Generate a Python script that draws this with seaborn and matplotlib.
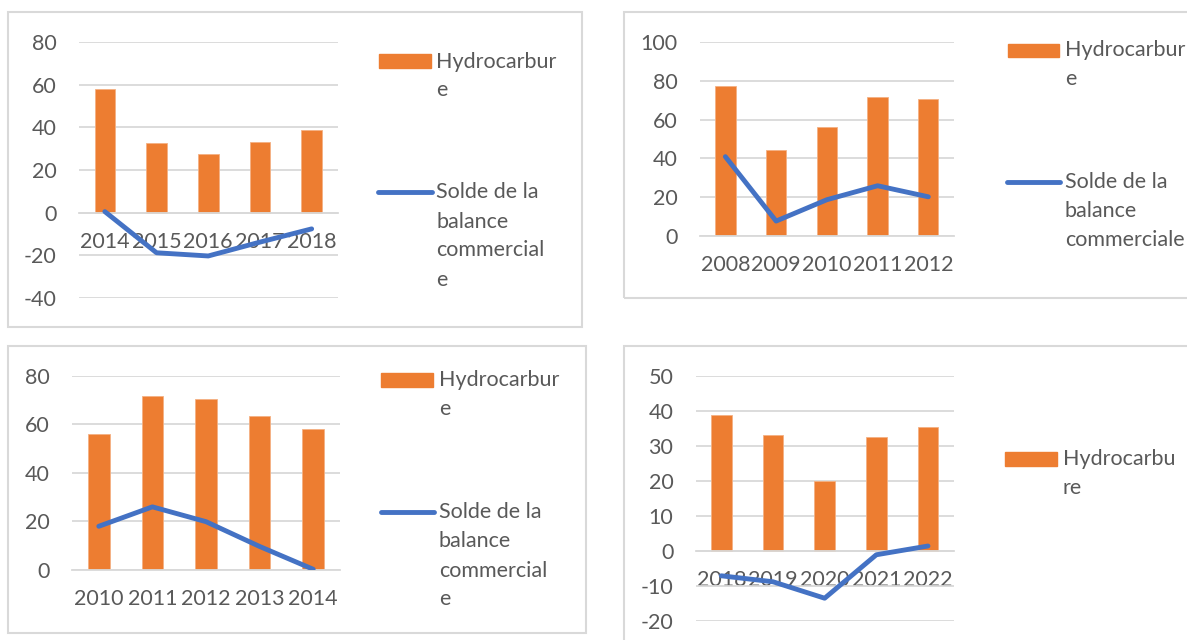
"""Hydrocarbures vs solde de la balance commerciale - four Excel-style panels."""

import numpy as np
import pandas as pd
import matplotlib.pyplot as plt
from matplotlib.patches import Rectangle
from matplotlib.lines import Line2D
from matplotlib.ticker import FixedLocator
import seaborn as sns

W, H = 1187, 640
ORANGE = "#ED7D31"
BLUE = "#4472C4"
GRID = "#D9D9D9"
TEXT = "#595959"
FS = 15.5

years_a = ["2014", "2015", "2016", "2017", "2018"]
hydro_a = [58.2, 32.8, 27.6, 32.9, 38.6]
solde_a = [0.5, -18.8, -20.3, -13.8, -7.6]

years_b = ["2008", "2009", "2010", "2011", "2012"]
hydro_b = [77.3, 44.2, 56.0, 71.6, 70.6]
solde_b = [40.9, 7.7, 18.7, 25.9, 20.2]

years_c = ["2010", "2011", "2012", "2013", "2014"]
hydro_c = [56.0, 71.5, 70.4, 63.6, 58.2]
solde_c = [18.0, 26.0, 19.9, 9.7, 0.3]

years_d = ["2018", "2019", "2020", "2021", "2022"]
hydro_d = [38.8, 33.2, 20.0, 32.5, 35.3]
solde_d = [-7.1, -8.8, -13.5, -1.1, 1.4]

sns.set_style("white")
plt.rcParams["font.family"] = ["Lato", "DejaVu Sans"]
plt.rcParams["axes.unicode_minus"] = False


def fx(px):
    return px / W


def fy(py):
    return 1 - py / H


def draw_panel(fig, years, hydro, solde, rect, ylim, step):
    left, top, right, bottom = rect
    ax = fig.add_axes([fx(left), fy(bottom), (right - left) / W, (bottom - top) / H])
    df = pd.DataFrame({"year": years, "hydro": hydro, "solde": solde, "pos": np.arange(len(years))})
    sns.barplot(data=df, x="year", y="hydro", color=ORANGE, width=0.4, saturation=1,
                edgecolor="#F4B183", linewidth=0.6, ax=ax)
    sns.lineplot(data=df, x="pos", y="solde", color=BLUE, lw=3.5, ax=ax,
                 solid_capstyle="round", solid_joinstyle="round", zorder=5)
    ax.set_xlim(-0.5, len(years) - 0.5)
    ax.set_ylim(*ylim)
    ax.set_yticks(np.arange(ylim[0], ylim[1] + 1, step))
    ax.set_xticks(np.arange(len(years)))
    ax.set_xticklabels(years)
    ax.xaxis.set_minor_locator(FixedLocator(np.arange(-0.5, len(years), 1.0)))
    ax.set_xlabel("")
    ax.set_ylabel("")
    ax.set_axisbelow(True)
    ax.grid(axis="y", color=GRID, lw=1.3)
    ax.grid(axis="x", visible=False)
    for side in ["top", "right", "left"]:
        ax.spines[side].set_visible(False)
    ax.spines["bottom"].set_position(("data", 0))
    ax.spines["bottom"].set_color(GRID)
    ax.spines["bottom"].set_linewidth(1.3)
    ax.tick_params(axis="x", which="major", length=0, pad=14, labelsize=FS, labelcolor=TEXT)
    ax.tick_params(axis="x", which="minor", length=5.5, width=1.2, color=GRID, direction="out")
    ax.tick_params(axis="y", length=0, pad=16, labelsize=FS, labelcolor=TEXT)
    return ax


def draw_box(fig, x0, y0, x1, y1):
    fig.add_artist(Rectangle((fx(x0), fy(y1)), (x1 - x0) / W, (y1 - y0) / H, fill=False,
                             edgecolor=GRID, lw=1.5, transform=fig.transFigure))


def legend_text(fig, x, ys, lines):
    for y, line in zip(ys, lines):
        fig.text(fx(x), fy(y), line, ha="left", va="center", fontsize=FS, color=TEXT)


def legend_bar(fig, x0, x1, y0, y1):
    fig.add_artist(Rectangle((fx(x0), fy(y1)), (x1 - x0) / W, (y1 - y0) / H, color=ORANGE,
                             transform=fig.transFigure))


def legend_line(fig, x0, x1, y):
    fig.add_artist(Line2D([fx(x0), fx(x1)], [fy(y), fy(y)], color=BLUE, lw=3.5,
                          solid_capstyle="round", transform=fig.transFigure))


fig = plt.figure(figsize=(W / 100, H / 100), dpi=100)
fig.patch.set_facecolor("white")

# top left
draw_box(fig, 7.5, 12, 582, 327)
draw_panel(fig, years_a, hydro_a, solde_a, (79, 42, 337.5, 298), (-40, 80), 20)
legend_bar(fig, 379, 431, 54, 68)
legend_text(fig, 436, [61.5, 90], ["Hydrocarbur", "e"])
legend_line(fig, 378, 432, 192)
legend_text(fig, 436, [192, 221.5, 250, 280], ["Solde de la", "balance", "commercial", "e"])

# top right
draw_box(fig, 623.5, 12, 1200, 298)
draw_panel(fig, years_b, hydro_b, solde_b, (700, 42, 953.7, 236), (0, 100), 20)
legend_bar(fig, 1008, 1059.5, 43.5, 56.5)
legend_text(fig, 1065, [50, 79], ["Hydrocarbur", "e"])
legend_line(fig, 1007, 1060, 181.7)
legend_text(fig, 1065, [181.7, 210.7, 240], ["Solde de la", "balance", "commerciale"])

# bottom left
draw_box(fig, 7.7, 345.7, 586, 632.7)
draw_panel(fig, years_c, hydro_c, solde_c, (72, 375.7, 340, 570), (0, 80), 20)
legend_bar(fig, 381, 433, 373.3, 386.7)
legend_text(fig, 439, [380, 409], ["Hydrocarbur", "e"])
legend_line(fig, 381, 434, 511.7)
legend_text(fig, 439, [511.7, 540.7, 570.7, 599.3], ["Solde de la", "balance", "commercial", "e"])

# bottom right
draw_box(fig, 623.6, 345.7, 1200, 700)
draw_panel(fig, years_d, hydro_d, solde_d, (695.5, 375.7, 953.8, 621), (-20, 50), 10)
legend_bar(fig, 1005, 1057, 452.3, 465.7)
legend_text(fig, 1063, [459, 488.3], ["Hydrocarbu", "re"])

fig.savefig("out.png", dpi=100)
